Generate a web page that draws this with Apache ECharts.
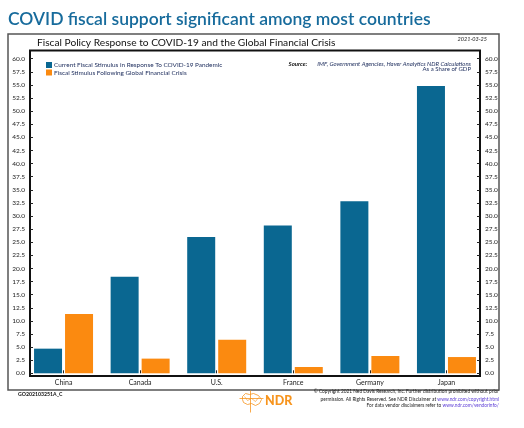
<!DOCTYPE html>
<html><head><meta charset="utf-8">
<script src="https://cdn.jsdelivr.net/npm/echarts@6/dist/echarts.min.js"></script>
<style>html,body{margin:0;padding:0;background:#fff}#c{width:524px;height:428px}</style>
</head><body><div id="c"></div>
<script>
const categories = ['China','Canada','U.S.','France','Germany','Japan'];
const covidStimulus = [4.7, 18.4, 26.0, 28.2, 32.8, 54.8];
const gfcStimulus = [11.3, 2.8, 6.4, 1.2, 3.3, 3.1];
const seriesNames = ['Current Fiscal Stimulus in Response To COVID-19 Pandemic','Fiscal Stimulus Following Global Financial Crisis'];
const yMin = 0, yMax = 60, yStep = 2.5;

const BLUE = '#0a6791', ORANGE = '#fb8a10';
const FONT = 'Lato';
const chart = echarts.init(document.getElementById('c'), null, {renderer:'canvas'});
const yAxisCommon = {
  type:'value', min:yMin, max:yMax, interval:yStep,
  axisLine:{show:false},
  axisTick:{show:true, inside:true, length:3, lineStyle:{color:'#222', width:1}},
  splitLine:{show:false},
  axisLabel:{fontFamily:FONT, fontSize:6.5, color:'#222', formatter:v=>v.toFixed(1), margin:5}
};
chart.setOption({
  animation:false,
  grid:{left:25.25, right:524-484.75, top:58.7, bottom:428-373.3, containLabel:false},
  legend:{
    show:true, orient:'vertical', left:41, top:57, itemWidth:6, itemHeight:6, itemGap:1.5,
    icon:'rect', textStyle:{fontFamily:FONT, fontSize:6.4, color:'#1a2a5a', padding:[0,0,0,-3]},
    data:seriesNames
  },
  xAxis:{
    type:'category', data:categories, offset:2.7,
    axisLine:{show:false},
    axisTick:{show:true, inside:true, alignWithLabel:true, length:3, lineStyle:{color:'#222'}},
    axisLabel:{fontFamily:FONT, fontSize:7, color:'#222', margin:3}
  },
  yAxis:[
    Object.assign({}, yAxisCommon, {position:'left', offset:-4.75}),
    Object.assign({}, yAxisCommon, {position:'right', offset:-4.75})
  ],
  series:[
    {name:seriesNames[0], type:'bar', data:covidStimulus, barWidth:28, barGap:'10.7%', itemStyle:{color:BLUE}},
    {name:seriesNames[1], type:'bar', data:gfcStimulus, barWidth:28, barGap:'10.7%', itemStyle:{color:ORANGE}}
  ],
  graphic:[
    {type:'text', left:8, top:10, style:{text:'COVID fiscal support significant among most countries', fontFamily:FONT, fontSize:17.5, fontWeight:600, fill:'#176b9c'}},
    {type:'rect', shape:{x:8, y:34, width:491, height:356}, style:{fill:'none', stroke:'#555', lineWidth:1.5}, silent:true},
    {type:'text', left:37, top:37.5, style:{text:'Fiscal Policy Response to COVID-19 and the Global Financial Crisis', fontFamily:FONT, fontSize:10.2, fill:'#111'}},
    {type:'text', right:524-487, top:36, style:{text:'2021-03-25', fontFamily:FONT, fontSize:5.5, fontStyle:'italic', fill:'#222'}},
    {type:'rect', shape:{x:30, y:50.5, width:450, height:325.5}, style:{fill:'none', stroke:'#111', lineWidth:2}, silent:true},
    {type:'text', x:471, y:58.5, style:{text:'{b|Source:}   {i|IMF, Government Agencies, Haver Analytics NDR Calculations}', align:'right', rich:{b:{fontFamily:FONT, fontSize:6, fontWeight:'bold', fontStyle:'italic', fill:'#111'}, i:{fontFamily:FONT, fontSize:6, fontStyle:'italic', fill:'#1a2a5a'}}}},
    {type:'text', x:471, y:66, style:{text:'As a Share of GDP', align:'right', fontFamily:FONT, fontSize:6, fill:'#1a2a5a'}},
    {type:'text', left:18, top:392, style:{text:'GO202103251A_C', fontFamily:FONT, fontSize:5.2, fontWeight:'bold', fill:'#111'}},
    {type:'text', left:265, top:394.5, style:{text:'NDR', fontFamily:FONT, fontSize:12.5, fontWeight:900, fill:'#f7941d'}},
    {type:'group', left:237, top:388, children:[
      {type:'line', shape:{x1:11, y1:0, x2:11, y2:22}, style:{stroke:'#f7941d', lineWidth:0.8}},
      {type:'line', shape:{x1:0, y1:8, x2:24, y2:8}, style:{stroke:'#f7941d', lineWidth:0.8}},
      {type:'polyline', shape:{points:[[3,6],[6,3],[10,4],[14,3],[19,5],[22,9],[20,13],[16,15],[12,13],[8,14],[4,12],[3,9],[3,6]]}, style:{fill:'none', stroke:'#f7941d', lineWidth:0.8}},
      {type:'polyline', shape:{points:[[5,6],[8,10],[12,8],[16,11],[19,7]]}, style:{fill:'none', stroke:'#f7941d', lineWidth:0.6}}
    ]},
    {type:'text', x:499, y:389, style:{text:'© Copyright 2021 Ned Davis Research, Inc. Further distribution prohibited without prior', align:'right', fontFamily:FONT, fontSize:4.8, fill:'#222'}},
    {type:'text', x:499, y:396.5, style:{text:'permission. All Rights Reserved. See NDR Disclaimer at {l|www.ndr.com/copyright.html}', align:'right', fontFamily:FONT, fontSize:4.8, fill:'#222', rich:{l:{fontFamily:FONT, fontSize:4.8, fill:'#5b3cd6'}}}},
    {type:'text', x:499, y:403, style:{text:'For data vendor disclaimers refer to {l|www.ndr.com/vendorinfo/}', align:'right', fontFamily:FONT, fontSize:4.8, fill:'#222', rich:{l:{fontFamily:FONT, fontSize:4.8, fill:'#5b3cd6'}}}}
  ]
});
</script></body></html>
